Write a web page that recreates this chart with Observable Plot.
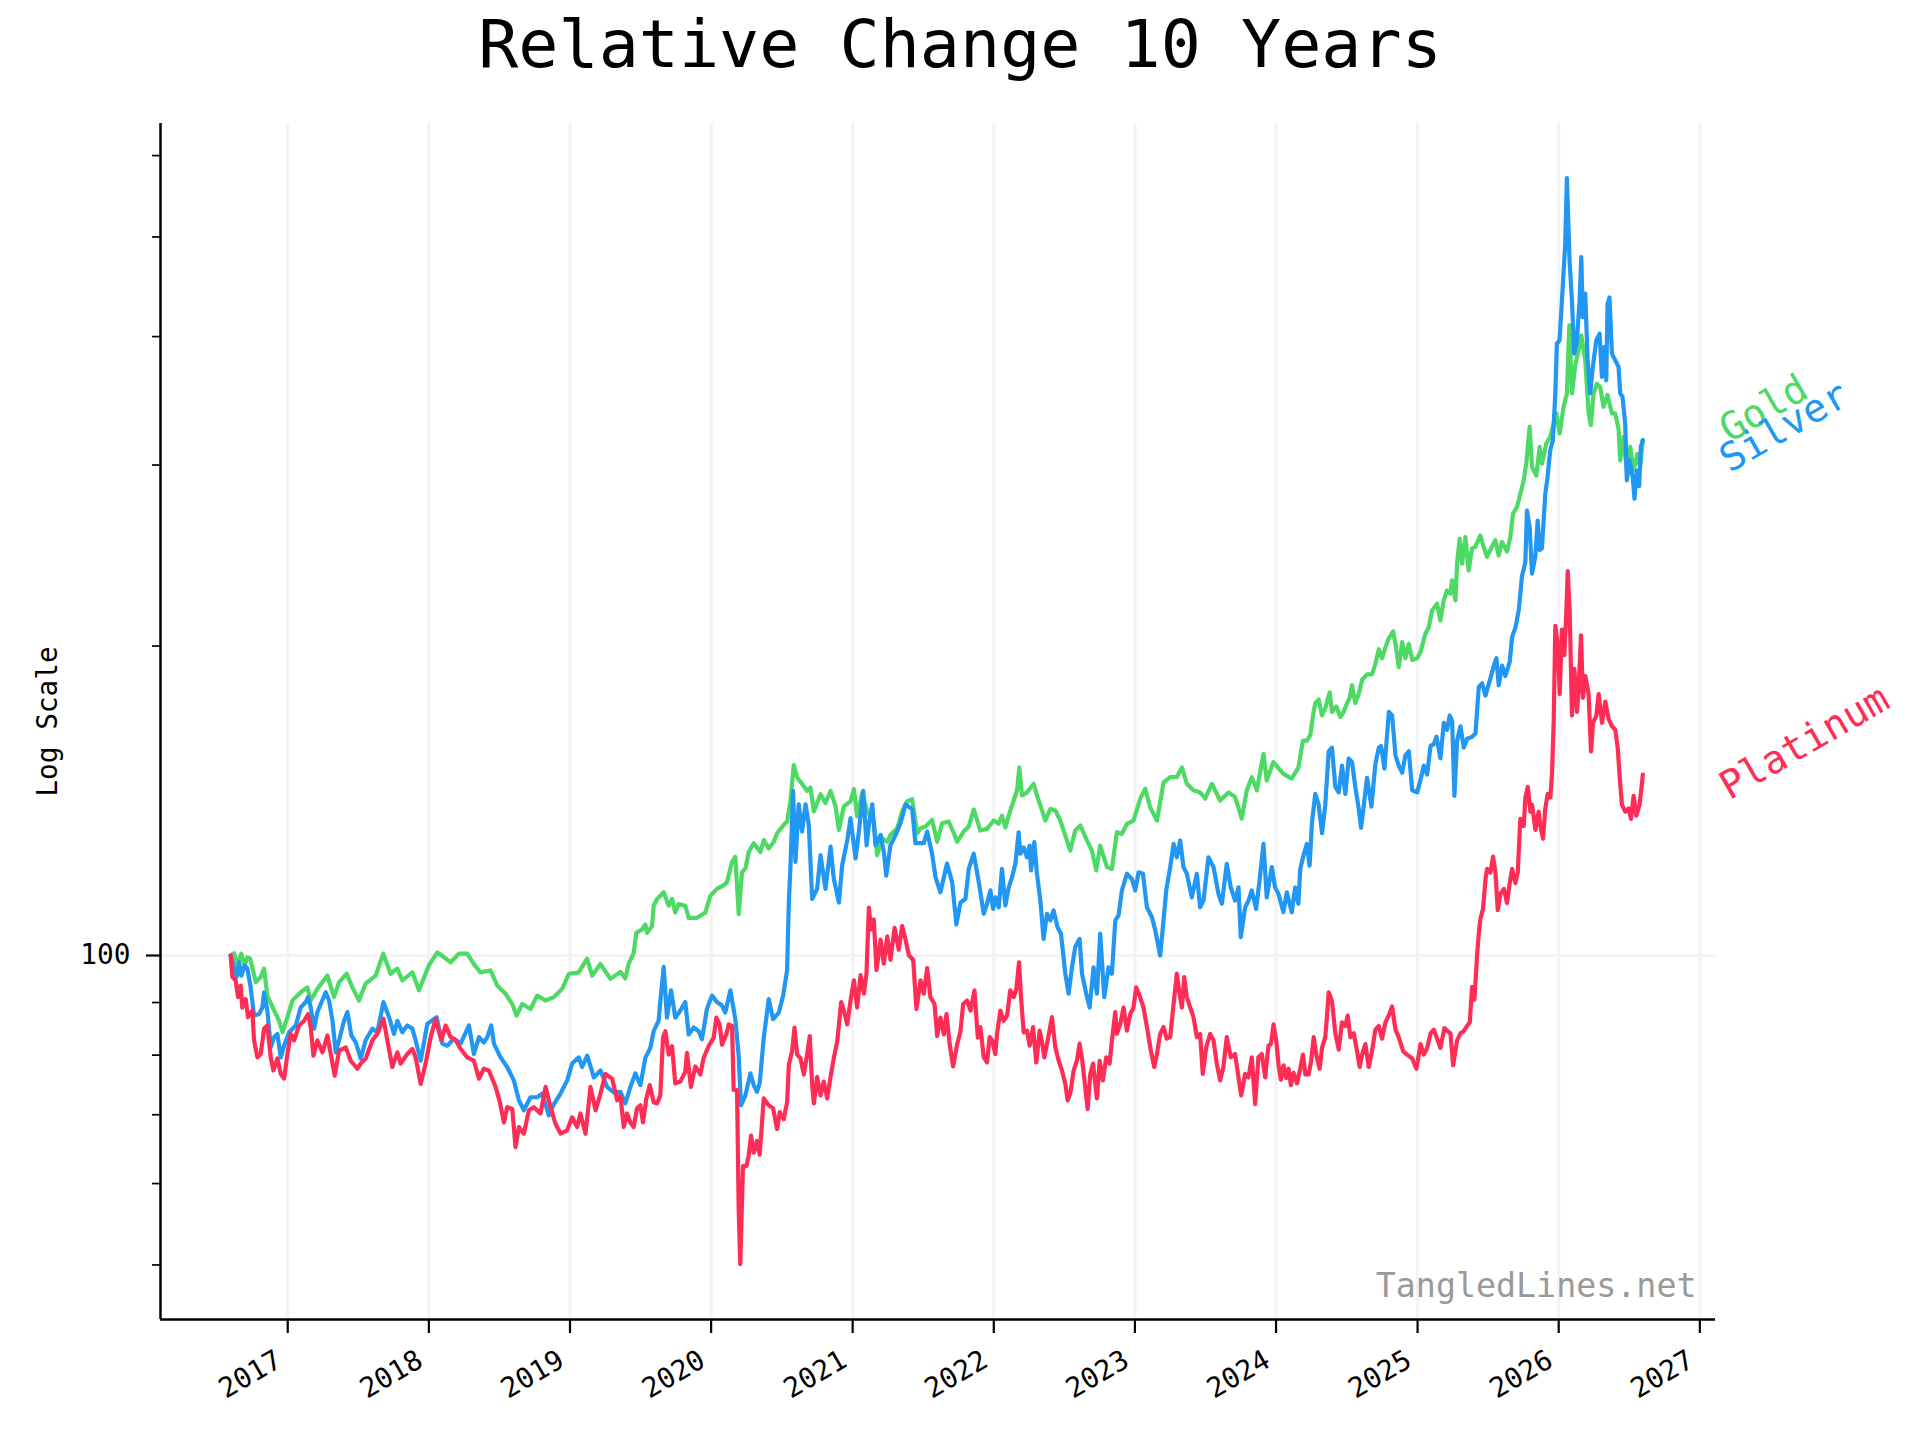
<!DOCTYPE html>
<html><head><meta charset="utf-8">
<script src="https://cdn.jsdelivr.net/npm/d3@7"></script>
<script src="https://cdn.jsdelivr.net/npm/@observablehq/plot@0.6"></script>
<style>
html,body{margin:0;padding:0;background:#fff;}
#title{width:1920px;height:100px;line-height:88px;text-align:center;font-family:"DejaVu Sans Mono",monospace;font-size:66.7px;color:#000;white-space:pre;}
#chart svg{display:block;overflow:visible;}
</style></head><body>
<div id="title">Relative Change 10 Years</div>
<div id="chart"></div>
<script>
// ---- data: [decimal year, relative value (start = 100)] ----
const gold = [[2016.597,100],[2016.620,100.5],[2016.644,98.1],[2016.672,100.4],[2016.696,97.8],[2016.715,99.6],[2016.734,99.3],[2016.750,97.4],[2016.774,94.2],[2016.809,95.3],[2016.833,97.1],[2016.856,91.4],[2016.904,88.4],[2016.939,86.4],[2016.963,84.2],[2016.998,87.1],[2017.033,90.4],[2017.092,92.1],[2017.139,93.1],[2017.163,90.4],[2017.210,92.8],[2017.281,95.6],[2017.328,91.1],[2017.364,94.2],[2017.418,96.0],[2017.458,93.1],[2017.505,90.4],[2017.552,93.9],[2017.623,95.6],[2017.677,100.4],[2017.729,96.0],[2017.776,97.1],[2017.812,94.6],[2017.883,96.3],[2017.930,92.5],[2018.000,97.8],[2018.060,100.7],[2018.107,99.6],[2018.154,98.5],[2018.213,100.4],[2018.272,100.4],[2018.319,98.1],[2018.366,96.3],[2018.437,96.7],[2018.484,93.5],[2018.543,91.8],[2018.591,89.7],[2018.621,87.4],[2018.662,89.7],[2018.720,88.7],[2018.768,91.4],[2018.827,90.4],[2018.886,91.1],[2018.945,92.8],[2018.992,96.0],[2019.062,96.3],[2019.121,99.3],[2019.157,95.6],[2019.216,98.1],[2019.287,94.9],[2019.357,96.4],[2019.392,95.0],[2019.416,98.2],[2019.451,100.5],[2019.470,105.2],[2019.510,106.0],[2019.534,107.2],[2019.546,105.2],[2019.581,106.8],[2019.593,111.8],[2019.617,113.5],[2019.664,115.2],[2019.699,111.8],[2019.723,113.5],[2019.746,110.1],[2019.770,112.2],[2019.817,111.8],[2019.841,108.8],[2019.900,108.8],[2019.959,110.1],[2019.994,114.3],[2020.041,116.1],[2020.088,117.0],[2020.112,117.8],[2020.147,123.3],[2020.171,124.7],[2020.195,109.7],[2020.218,120.5],[2020.242,121.5],[2020.266,126.1],[2020.301,128.6],[2020.348,126.1],[2020.372,129.5],[2020.407,127.1],[2020.443,129.0],[2020.466,131.5],[2020.513,134.0],[2020.537,135.0],[2020.560,141.2],[2020.584,153.2],[2020.608,149.0],[2020.643,146.8],[2020.678,144.6],[2020.702,145.7],[2020.726,138.1],[2020.773,143.5],[2020.808,140.7],[2020.844,144.6],[2020.879,139.7],[2020.903,132.5],[2020.938,139.7],[2020.985,141.2],[2021.009,145.2],[2021.032,136.6],[2021.068,144.0],[2021.103,138.1],[2021.150,135.0],[2021.174,125.2],[2021.209,130.0],[2021.245,129.0],[2021.268,131.0],[2021.316,133.0],[2021.351,138.1],[2021.386,141.2],[2021.422,141.9],[2021.457,131.5],[2021.481,133.0],[2021.516,133.5],[2021.563,135.5],[2021.599,129.0],[2021.634,134.5],[2021.681,135.0],[2021.717,131.5],[2021.740,129.0],[2021.787,132.0],[2021.823,133.5],[2021.858,138.7],[2021.905,132.3],[2021.952,132.8],[2021.999,135.3],[2022.035,134.3],[2022.058,136.8],[2022.082,133.2],[2022.117,138.4],[2022.141,141.5],[2022.165,144.8],[2022.181,152.4],[2022.200,143.1],[2022.235,144.1],[2022.283,146.9],[2022.306,143.1],[2022.342,138.4],[2022.365,135.3],[2022.401,138.9],[2022.436,138.4],[2022.471,135.3],[2022.507,130.8],[2022.542,126.5],[2022.577,132.3],[2022.613,133.8],[2022.660,129.4],[2022.695,126.5],[2022.726,121.0],[2022.754,127.9],[2022.802,121.9],[2022.837,121.4],[2022.872,131.8],[2022.908,131.3],[2022.943,134.3],[2022.990,135.3],[2023.038,142.1],[2023.073,145.3],[2023.108,139.4],[2023.156,135.3],[2023.203,147.4],[2023.250,149.1],[2023.297,149.1],[2023.333,152.4],[2023.368,146.9],[2023.415,144.8],[2023.462,144.1],[2023.498,142.1],[2023.545,146.9],[2023.604,141.5],[2023.663,144.1],[2023.710,142.6],[2023.757,135.9],[2023.793,144.8],[2023.828,149.1],[2023.864,144.8],[2023.911,157.1],[2023.934,148.0],[2023.981,154.2],[2024.052,150.2],[2024.111,148.6],[2024.158,152.4],[2024.190,161.8],[2024.218,161.8],[2024.242,163.8],[2024.261,171.2],[2024.277,176.0],[2024.301,177.4],[2024.325,171.2],[2024.348,174.0],[2024.379,180.3],[2024.395,172.6],[2024.426,174.7],[2024.454,170.6],[2024.478,172.6],[2024.502,176.0],[2024.520,178.1],[2024.537,183.2],[2024.560,176.0],[2024.584,179.6],[2024.608,185.4],[2024.643,187.7],[2024.678,187.7],[2024.702,192.2],[2024.726,198.6],[2024.749,194.6],[2024.773,199.4],[2024.796,203.4],[2024.827,206.7],[2024.844,201.0],[2024.867,190.7],[2024.891,201.8],[2024.914,194.6],[2024.938,201.0],[2024.962,193.9],[2024.997,194.6],[2025.020,197.2],[2025.055,205.5],[2025.079,208.6],[2025.103,216.6],[2025.138,219.9],[2025.162,211.8],[2025.185,221.5],[2025.209,226.5],[2025.232,224.9],[2025.244,231.7],[2025.268,221.5],[2025.280,240.5],[2025.298,254.4],[2025.315,240.5],[2025.339,255.3],[2025.362,236.9],[2025.386,248.9],[2025.409,249.8],[2025.445,256.2],[2025.468,249.8],[2025.492,244.3],[2025.527,249.8],[2025.551,253.5],[2025.575,245.0],[2025.598,252.6],[2025.634,247.2],[2025.657,255.3],[2025.676,269.0],[2025.704,273.0],[2025.728,281.3],[2025.752,289.9],[2025.770,300.9],[2025.794,326.9],[2025.811,298.6],[2025.841,293.0],[2025.865,312.4],[2025.881,300.9],[2025.912,314.8],[2025.940,319.6],[2025.964,329.3],[2025.983,336.8],[2026.006,322.0],[2026.035,341.8],[2026.058,352.2],[2026.075,410.3],[2026.094,352.2],[2026.117,375.2],[2026.141,388.1],[2026.160,401.0],[2026.188,379.4],[2026.212,336.8],[2026.228,328.1],[2026.247,352.2],[2026.271,359.9],[2026.294,357.3],[2026.318,341.8],[2026.346,351.0],[2026.377,336.8],[2026.400,336.8],[2026.424,325.5],[2026.436,303.1],[2026.459,319.6],[2026.483,295.2],[2026.507,312.4],[2026.530,296.3],[2026.558,307.6],[2026.577,298.6],[2026.596,317.2]];

const silver = [[2016.597,100],[2016.620,97.4],[2016.639,95.3],[2016.656,98.5],[2016.672,95.6],[2016.696,97.8],[2016.715,97.1],[2016.738,93.1],[2016.762,87.4],[2016.797,87.7],[2016.821,89.0],[2016.833,92.1],[2016.856,88.4],[2016.880,81.4],[2016.904,83.3],[2016.927,83.9],[2016.951,79.6],[2016.974,81.7],[2017.010,84.2],[2017.057,85.5],[2017.092,89.0],[2017.128,90.1],[2017.144,91.1],[2017.163,89.0],[2017.187,84.9],[2017.210,88.1],[2017.234,89.7],[2017.269,92.1],[2017.293,90.4],[2017.317,86.4],[2017.340,80.5],[2017.364,82.7],[2017.399,86.4],[2017.423,88.1],[2017.451,83.6],[2017.482,82.3],[2017.517,79.4],[2017.552,82.7],[2017.600,84.9],[2017.635,84.2],[2017.678,90.1],[2017.718,87.1],[2017.753,83.9],[2017.777,86.4],[2017.812,84.2],[2017.847,85.5],[2017.883,84.9],[2017.906,82.7],[2017.942,79.0],[2017.989,85.8],[2018.055,87.1],[2018.095,82.1],[2018.130,81.7],[2018.178,83.0],[2018.225,82.1],[2018.284,85.5],[2018.319,80.2],[2018.355,83.3],[2018.390,82.3],[2018.414,83.3],[2018.442,85.5],[2018.461,82.1],[2018.508,79.6],[2018.555,77.9],[2018.602,75.6],[2018.638,72.3],[2018.673,70.7],[2018.720,72.8],[2018.768,72.8],[2018.803,73.4],[2018.850,69.9],[2018.886,71.7],[2018.933,73.4],[2018.980,75.6],[2019.015,78.5],[2019.062,79.6],[2019.086,77.9],[2019.122,79.9],[2019.169,76.1],[2019.216,77.3],[2019.263,74.5],[2019.310,73.6],[2019.357,73.7],[2019.392,71.8],[2019.428,74.5],[2019.463,76.8],[2019.499,74.8],[2019.534,79.5],[2019.569,81.3],[2019.593,84.4],[2019.628,86.4],[2019.645,91.8],[2019.664,97.5],[2019.687,87.0],[2019.716,92.5],[2019.746,87.0],[2019.782,88.4],[2019.817,90.1],[2019.841,83.8],[2019.876,85.1],[2019.912,84.4],[2019.935,82.9],[2019.970,88.7],[2020.006,91.4],[2020.041,90.1],[2020.077,89.4],[2020.100,88.0],[2020.136,92.5],[2020.171,86.7],[2020.195,79.8],[2020.211,71.5],[2020.242,73.1],[2020.277,76.8],[2020.301,74.8],[2020.324,73.7],[2020.343,75.1],[2020.372,83.2],[2020.407,90.7],[2020.438,86.7],[2020.478,88.0],[2020.509,91.4],[2020.537,96.8],[2020.549,112.6],[2020.560,121.5],[2020.579,144.6],[2020.596,123.3],[2020.619,140.3],[2020.643,132.0],[2020.667,140.3],[2020.690,134.0],[2020.714,113.5],[2020.749,116.1],[2020.773,125.2],[2020.808,116.1],[2020.844,127.6],[2020.867,118.7],[2020.903,112.6],[2020.926,122.4],[2020.962,129.5],[2020.985,136.0],[2021.021,124.3],[2021.044,132.0],[2021.075,144.6],[2021.099,128.0],[2021.115,134.0],[2021.139,140.3],[2021.162,128.0],[2021.198,131.0],[2021.221,126.1],[2021.238,119.6],[2021.268,128.0],[2021.304,131.0],[2021.339,134.5],[2021.375,140.3],[2021.422,138.7],[2021.445,128.6],[2021.504,128.6],[2021.528,132.0],[2021.563,125.6],[2021.587,119.2],[2021.622,115.2],[2021.669,122.9],[2021.705,117.8],[2021.735,107.2],[2021.764,112.6],[2021.799,113.5],[2021.823,121.5],[2021.858,125.6],[2021.894,117.8],[2021.929,109.8],[2021.952,112.3],[2021.976,115.7],[2021.995,111.0],[2022.011,113.9],[2022.035,111.4],[2022.058,121.4],[2022.082,111.9],[2022.106,116.5],[2022.129,119.1],[2022.153,122.8],[2022.176,131.8],[2022.188,125.6],[2022.212,127.4],[2022.235,124.6],[2022.254,127.9],[2022.264,121.0],[2022.287,128.9],[2022.306,120.1],[2022.330,113.1],[2022.353,103.8],[2022.377,109.8],[2022.401,108.2],[2022.424,110.6],[2022.452,106.5],[2022.476,105.0],[2022.507,96.0],[2022.530,91.8],[2022.554,97.4],[2022.577,101.9],[2022.608,103.8],[2022.625,96.0],[2022.655,91.8],[2022.679,89.0],[2022.707,97.4],[2022.731,91.8],[2022.754,105.0],[2022.783,91.1],[2022.813,97.4],[2022.837,96.0],[2022.861,108.2],[2022.884,109.4],[2022.908,115.7],[2022.943,120.1],[2022.979,118.7],[2023.002,115.7],[2023.026,120.5],[2023.057,120.1],[2023.085,111.4],[2023.120,109.0],[2023.144,105.8],[2023.179,100.0],[2023.198,106.5],[2023.222,115.7],[2023.250,121.9],[2023.274,128.4],[2023.297,124.6],[2023.321,129.4],[2023.344,121.9],[2023.368,120.1],[2023.403,113.9],[2023.439,120.1],[2023.462,111.4],[2023.486,113.1],[2023.521,124.6],[2023.557,121.9],[2023.592,114.8],[2023.616,112.3],[2023.651,122.8],[2023.679,116.5],[2023.710,113.1],[2023.734,116.5],[2023.750,104.2],[2023.781,111.4],[2023.805,113.1],[2023.828,115.7],[2023.859,111.0],[2023.883,118.3],[2023.911,128.4],[2023.934,113.9],[2023.970,121.9],[2023.993,116.5],[2024.017,114.8],[2024.052,110.2],[2024.076,115.2],[2024.111,110.2],[2024.135,116.5],[2024.158,112.3],[2024.171,121.4],[2024.195,125.3],[2024.218,128.4],[2024.237,122.3],[2024.254,134.7],[2024.277,143.6],[2024.301,140.2],[2024.325,131.5],[2024.348,140.2],[2024.372,158.0],[2024.395,159.3],[2024.419,145.9],[2024.443,144.1],[2024.466,153.0],[2024.490,143.6],[2024.513,155.5],[2024.537,154.2],[2024.560,145.9],[2024.584,139.0],[2024.601,133.1],[2024.619,139.6],[2024.643,148.9],[2024.674,139.6],[2024.702,153.6],[2024.726,159.3],[2024.742,159.9],[2024.766,152.0],[2024.797,172.6],[2024.820,171.2],[2024.844,156.6],[2024.867,153.0],[2024.891,150.6],[2024.914,156.6],[2024.938,158.0],[2024.962,144.8],[2024.997,144.1],[2025.021,148.2],[2025.044,153.0],[2025.068,150.0],[2025.092,159.9],[2025.115,160.5],[2025.134,163.2],[2025.162,155.5],[2025.186,168.4],[2025.209,165.8],[2025.228,171.2],[2025.245,169.1],[2025.261,143.0],[2025.280,161.8],[2025.304,167.1],[2025.327,159.3],[2025.351,162.5],[2025.386,163.2],[2025.410,164.4],[2025.434,182.5],[2025.457,184.0],[2025.481,179.0],[2025.516,186.0],[2025.540,191.4],[2025.559,194.6],[2025.575,183.2],[2025.599,191.4],[2025.622,187.0],[2025.653,193.0],[2025.670,204.2],[2025.693,208.3],[2025.717,216.8],[2025.740,233.9],[2025.764,241.6],[2025.775,270.9],[2025.794,261.0],[2025.811,235.2],[2025.834,244.3],[2025.851,264.9],[2025.865,248.0],[2025.881,248.9],[2025.905,281.3],[2025.921,291.9],[2025.940,310.1],[2025.959,317.2],[2025.976,352.2],[2025.987,393.7],[2026.006,396.6],[2026.023,433.5],[2026.035,463.7],[2026.046,492.0],[2026.058,570.4],[2026.077,474.3],[2026.094,433.5],[2026.110,385.1],[2026.129,396.6],[2026.148,433.5],[2026.160,477.9],[2026.171,417.7],[2026.188,440.4],[2026.205,379.4],[2026.223,352.2],[2026.242,373.8],[2026.266,396.6],[2026.290,402.6],[2026.306,365.5],[2026.323,390.8],[2026.337,362.7],[2026.346,430.2],[2026.360,436.7],[2026.377,385.1],[2026.400,379.4],[2026.424,373.8],[2026.436,352.2],[2026.452,349.7],[2026.471,329.3],[2026.483,289.9],[2026.502,303.1],[2026.525,291.9],[2026.537,278.2],[2026.554,296.3],[2026.570,286.1],[2026.582,312.4],[2026.596,317.2]];

const platinum = [[2016.597,100],[2016.609,95.3],[2016.632,94.6],[2016.649,91.1],[2016.668,93.5],[2016.679,89.0],[2016.703,90.7],[2016.719,87.1],[2016.750,88.4],[2016.762,82.7],[2016.786,79.6],[2016.809,80.2],[2016.833,84.9],[2016.856,85.5],[2016.880,79.6],[2016.899,77.3],[2016.927,79.4],[2016.951,76.7],[2016.974,75.9],[2016.998,80.2],[2017.021,83.9],[2017.045,82.7],[2017.081,85.5],[2017.116,86.4],[2017.144,87.7],[2017.163,85.2],[2017.182,79.9],[2017.210,82.7],[2017.246,80.5],[2017.281,83.6],[2017.305,80.2],[2017.333,76.4],[2017.364,80.8],[2017.411,81.4],[2017.446,79.0],[2017.494,77.6],[2017.517,78.5],[2017.553,79.4],[2017.600,82.7],[2017.635,83.9],[2017.678,86.8],[2017.706,82.7],[2017.741,77.9],[2017.777,80.5],[2017.800,78.5],[2017.847,80.2],[2017.883,81.1],[2017.906,79.6],[2017.942,75.0],[2017.977,78.5],[2018.013,83.3],[2018.048,86.8],[2018.088,82.7],[2018.119,85.5],[2018.154,83.3],[2018.190,82.7],[2018.225,81.1],[2018.272,79.6],[2018.319,79.0],[2018.355,75.9],[2018.390,77.6],[2018.425,77.3],[2018.473,74.5],[2018.503,72.0],[2018.532,68.8],[2018.555,71.2],[2018.591,70.9],[2018.614,65.1],[2018.638,68.1],[2018.673,67.1],[2018.709,70.7],[2018.744,71.2],[2018.791,70.2],[2018.827,74.5],[2018.862,71.2],[2018.897,68.6],[2018.933,67.1],[2018.980,67.6],[2019.015,69.6],[2019.051,68.1],[2019.074,70.2],[2019.110,67.1],[2019.145,74.5],[2019.181,70.7],[2019.216,73.4],[2019.251,76.7],[2019.299,75.9],[2019.334,72.3],[2019.357,73.1],[2019.381,68.1],[2019.404,70.2],[2019.428,68.8],[2019.451,68.1],[2019.475,71.0],[2019.499,71.5],[2019.517,68.8],[2019.541,72.6],[2019.565,74.8],[2019.593,72.0],[2019.617,71.8],[2019.640,73.1],[2019.659,83.2],[2019.676,84.4],[2019.699,80.1],[2019.723,81.6],[2019.746,75.1],[2019.782,75.4],[2019.817,77.1],[2019.829,80.4],[2019.857,74.5],[2019.888,78.0],[2019.923,76.6],[2019.947,79.5],[2019.982,81.6],[2020.018,83.2],[2020.037,87.0],[2020.060,85.7],[2020.077,81.9],[2020.107,83.8],[2020.124,85.7],[2020.148,85.4],[2020.159,74.0],[2020.183,74.0],[2020.195,56.5],[2020.206,50.1],[2020.225,62.4],[2020.249,62.4],[2020.265,63.8],[2020.282,66.8],[2020.301,64.3],[2020.324,66.0],[2020.343,64.0],[2020.372,72.6],[2020.407,71.5],[2020.438,71.0],[2020.466,67.8],[2020.485,70.4],[2020.513,69.3],[2020.537,72.0],[2020.549,78.3],[2020.572,80.7],[2020.589,85.1],[2020.608,80.1],[2020.631,79.5],[2020.655,76.6],[2020.678,80.1],[2020.697,83.5],[2020.714,74.8],[2020.726,71.8],[2020.749,76.2],[2020.773,73.1],[2020.796,75.4],[2020.820,72.6],[2020.844,76.2],[2020.867,79.5],[2020.891,82.5],[2020.919,90.1],[2020.938,88.4],[2020.962,85.7],[2020.985,90.4],[2021.009,94.6],[2021.032,89.0],[2021.056,95.7],[2021.080,91.8],[2021.098,96.0],[2021.115,111.3],[2021.131,106.0],[2021.150,108.4],[2021.169,96.8],[2021.198,103.6],[2021.221,98.2],[2021.245,104.4],[2021.268,99.0],[2021.297,106.4],[2021.327,101.3],[2021.351,106.8],[2021.375,103.6],[2021.398,100.1],[2021.429,99.0],[2021.452,88.7],[2021.481,94.6],[2021.504,91.8],[2021.528,97.2],[2021.551,91.1],[2021.580,89.7],[2021.599,83.5],[2021.622,87.0],[2021.646,83.8],[2021.665,87.7],[2021.688,81.9],[2021.712,78.0],[2021.740,81.9],[2021.764,84.4],[2021.783,89.7],[2021.811,90.4],[2021.835,88.4],[2021.863,92.5],[2021.887,83.2],[2021.905,85.2],[2021.929,79.6],[2021.952,78.7],[2021.971,83.3],[2021.988,82.7],[2022.011,80.2],[2022.023,83.9],[2022.047,88.4],[2022.070,86.4],[2022.094,87.4],[2022.117,92.5],[2022.141,91.1],[2022.160,92.8],[2022.179,98.5],[2022.193,91.1],[2022.212,84.2],[2022.235,84.5],[2022.254,81.7],[2022.278,85.2],[2022.301,78.7],[2022.325,84.5],[2022.342,82.3],[2022.358,79.6],[2022.382,82.7],[2022.412,87.1],[2022.436,81.4],[2022.460,79.0],[2022.483,77.3],[2022.507,75.0],[2022.523,72.3],[2022.542,73.4],[2022.566,77.3],[2022.589,79.0],[2022.608,82.1],[2022.625,79.4],[2022.648,74.5],[2022.665,70.9],[2022.684,76.7],[2022.703,78.5],[2022.731,72.6],[2022.750,79.0],[2022.773,75.6],[2022.797,79.6],[2022.821,78.5],[2022.837,82.7],[2022.861,88.1],[2022.872,83.9],[2022.896,85.8],[2022.920,89.0],[2022.943,84.5],[2022.967,87.7],[2022.990,89.0],[2023.009,93.1],[2023.033,91.4],[2023.061,89.0],[2023.085,85.2],[2023.113,80.8],[2023.137,77.9],[2023.156,80.2],[2023.179,83.9],[2023.203,85.2],[2023.226,83.0],[2023.250,83.3],[2023.274,89.7],[2023.297,96.0],[2023.316,91.8],[2023.333,89.0],[2023.349,95.3],[2023.368,91.1],[2023.392,89.0],[2023.415,87.1],[2023.439,83.3],[2023.462,83.9],[2023.481,76.7],[2023.505,81.4],[2023.533,83.9],[2023.557,82.7],[2023.580,78.5],[2023.604,75.6],[2023.627,77.9],[2023.651,83.3],[2023.679,79.6],[2023.710,80.2],[2023.734,76.1],[2023.753,73.1],[2023.781,76.7],[2023.805,76.1],[2023.828,79.6],[2023.852,71.7],[2023.875,79.6],[2023.899,80.2],[2023.923,76.1],[2023.946,81.7],[2023.964,82.0],[2023.982,85.7],[2024.001,82.7],[2024.018,78.2],[2024.034,75.7],[2024.053,78.2],[2024.072,76.0],[2024.089,77.6],[2024.105,74.8],[2024.124,76.9],[2024.148,75.1],[2024.171,77.6],[2024.190,80.1],[2024.207,76.6],[2024.230,76.6],[2024.247,78.8],[2024.266,83.3],[2024.284,80.1],[2024.308,77.6],[2024.325,81.3],[2024.348,83.3],[2024.360,87.4],[2024.372,92.1],[2024.395,90.3],[2024.419,84.0],[2024.443,81.0],[2024.466,86.1],[2024.490,85.4],[2024.506,87.4],[2024.525,83.3],[2024.549,84.0],[2024.572,80.7],[2024.591,77.9],[2024.608,80.1],[2024.631,82.0],[2024.655,77.9],[2024.678,80.7],[2024.702,84.7],[2024.726,85.4],[2024.749,83.0],[2024.773,86.1],[2024.796,87.4],[2024.820,89.2],[2024.844,84.7],[2024.867,83.3],[2024.898,80.7],[2024.926,80.1],[2024.962,79.4],[2024.992,77.6],[2025.021,82.0],[2025.044,80.1],[2025.068,81.3],[2025.092,84.0],[2025.115,84.7],[2025.139,83.0],[2025.162,81.3],[2025.190,85.0],[2025.214,84.4],[2025.233,84.0],[2025.252,78.2],[2025.280,82.7],[2025.304,84.0],[2025.327,84.4],[2025.351,85.4],[2025.370,86.1],[2025.386,93.2],[2025.403,90.6],[2025.422,100.2],[2025.434,105.1],[2025.445,108.5],[2025.464,111.1],[2025.481,118.5],[2025.492,121.4],[2025.516,120.4],[2025.535,124.8],[2025.552,120.4],[2025.568,110.7],[2025.587,114.8],[2025.611,116.1],[2025.634,112.5],[2025.653,117.6],[2025.670,121.4],[2025.693,117.6],[2025.710,120.4],[2025.728,135.8],[2025.752,133.6],[2025.764,142.5],[2025.781,145.9],[2025.799,138.0],[2025.811,140.2],[2025.835,132.5],[2025.858,138.0],[2025.870,133.6],[2025.889,129.9],[2025.905,139.0],[2025.922,143.6],[2025.941,142.5],[2025.953,150.6],[2025.965,169.8],[2025.976,209.2],[2025.995,199.4],[2026.007,179.6],[2026.023,207.5],[2026.040,196.0],[2026.054,215.9],[2026.064,236.6],[2026.078,215.9],[2026.094,171.2],[2026.111,190.0],[2026.130,172.6],[2026.141,181.1],[2026.158,204.9],[2026.172,178.1],[2026.189,187.0],[2026.212,179.6],[2026.229,158.0],[2026.243,168.4],[2026.267,171.2],[2026.283,179.6],[2026.307,168.4],[2026.330,176.6],[2026.354,169.8],[2026.378,167.1],[2026.401,165.8],[2026.418,159.3],[2026.432,149.3],[2026.448,140.2],[2026.472,138.0],[2026.495,139.0],[2026.512,135.8],[2026.531,143.0],[2026.550,136.8],[2026.573,140.2],[2026.590,147.1],[2026.596,150.0]];

const seriesNames = ["Gold", "Silver", "Platinum"];
const seriesColors = ["#4CD964", "#2196F3", "#FF2D55"];
const yearTicks = [2017, 2018, 2019, 2020, 2021, 2022, 2023, 2024, 2025, 2026, 2027];
const yMajorTicks = [100];
const yMinorTicks = [50, 60, 70, 80, 90, 200, 300, 400, 500, 600];
const xDomainYears = [2016.101, 2027.111];
const yDomain = [44.25, 644.7];
const watermark = "TangledLines.net";
const yLabel = "Log Scale";

// decimal year -> Date
function toDate(y) {
  const yr = Math.floor(y);
  const s = Date.UTC(yr, 0, 1), e = Date.UTC(yr + 1, 0, 1);
  return new Date(s + (y - yr) * (e - s));
}
const yearDates = yearTicks.map(y => new Date(Date.UTC(y, 0, 1)));
const toRows = arr => arr.map(([t, v]) => ({date: toDate(t), value: v}));
const rows = [toRows(gold), toRows(silver), toRows(platinum)];
const labelDy = [3, 33, 26];

const font = "'DejaVu Sans Mono', monospace";
const marks = [
  Plot.ruleX(yearDates, {stroke: "#f3f3f3", strokeWidth: 3}),
  Plot.ruleY(yMajorTicks, {stroke: "#f3f3f3", strokeWidth: 3}),
  // axes ticks
  Plot.axisY({ticks: yMinorTicks, tickSize: 8, tickFormat: () => "", strokeWidth: 1.7, label: null}),
  Plot.axisY({ticks: yMajorTicks, tickSize: 14, tickPadding: 16, tickFormat: d => String(d), strokeWidth: 2.2, fontSize: 27.8, label: null}),
  Plot.axisX({ticks: yearDates, tickSize: 14, tickFormat: () => "", strokeWidth: 2.2, label: null}),
  Plot.text(yearDates, {x: d => d, frameAnchor: "bottom", text: d => d3.utcFormat("%Y")(d), rotate: -30, textAnchor: "end", lineAnchor: "bottom", dy: 46, dx: -4, fontSize: 27.8, fill: "#000"}),
  // spines
  Plot.ruleX([toDate(xDomainYears[0])], {stroke: "#000", strokeWidth: 2.5}),
  Plot.ruleY([yDomain[0]], {stroke: "#000", strokeWidth: 2.5}),
  // watermark
  Plot.text([watermark], {frameAnchor: "bottom-right", textAnchor: "end", lineAnchor: "bottom", dx: -19, dy: -23, fill: "#999999", fontSize: 33.3}),
  // y label
  Plot.text([yLabel], {frameAnchor: "left", rotate: -90, dx: -112, textAnchor: "middle", lineAnchor: "middle", fontSize: 27.8, fill: "#000"})
];
rows.forEach((r, i) => {
  marks.push(Plot.line(r, {x: "date", y: "value", stroke: seriesColors[i], strokeWidth: 4.2, strokeLinejoin: "round", strokeLinecap: "round"}));
});
rows.forEach((r, i) => {
  marks.push(Plot.text([r[r.length - 1]], {frameAnchor: "right", y: "value", text: () => seriesNames[i], fill: seriesColors[i], rotate: -30, textAnchor: "start", lineAnchor: "bottom", dx: 14, dy: labelDy[i], fontSize: 39}));
});

const chart = Plot.plot({
  width: 1920, height: 1340,
  marginLeft: 160, marginRight: 205, marginTop: 23, marginBottom: 121,
  style: {fontFamily: font, fontSize: "27.8px", background: "#fff", color: "#000", overflow: "visible"},
  x: {type: "utc", domain: xDomainYears.map(toDate), axis: null},
  y: {type: "log", domain: yDomain, axis: null},
  marks
});
document.getElementById("chart").appendChild(chart);
</script></body></html>
